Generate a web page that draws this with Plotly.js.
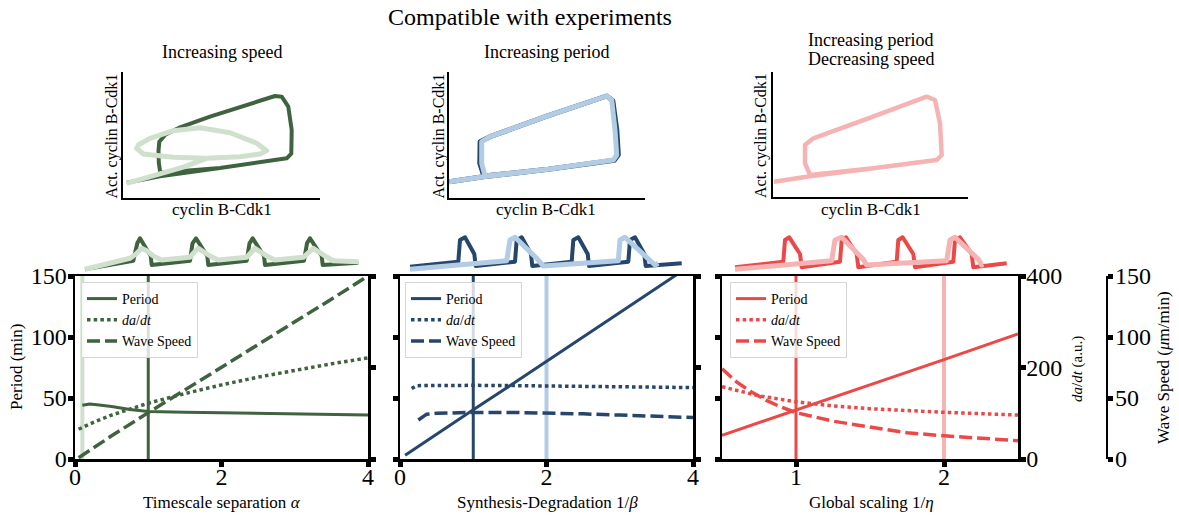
<!DOCTYPE html>
<html><head><meta charset="utf-8">
<script src="https://cdn.plot.ly/plotly-3.0.1.min.js"></script>
<style>
html,body{margin:0;padding:0;background:#fff;}
#chart{width:1179px;height:517px;}
path.js-line{stroke-linejoin:round;}
</style></head><body><div id="chart"></div>
<script>
// ---------------- DATA ----------------
// Panel 1: timescale separation alpha
const alphaPeriodX = [0.1, 0.2, 0.3, 0.5, 0.75, 1, 1.5, 2, 2.5, 3, 3.5, 4];
const alphaPeriodY = [44, 45, 44.5, 43, 40.5, 39, 38.4, 38, 37.4, 36.9, 36.4, 36];
const alphaDadtX = [0.05, 0.25, 0.5, 0.75, 1, 1.5, 2, 2.5, 3, 3.5, 4];
const alphaDadtY = [65, 80, 96, 110, 122, 143, 162, 179, 194, 208, 221];
const alphaSpeedX = [0.05, 0.5, 1, 1.5, 2, 2.5, 3, 3.5, 4];
const alphaSpeedY = [1, 19, 38, 56.5, 75, 93.5, 112, 131, 150];
const alphaMarks = [1, 0.1];            // reference, compared value

// Panel 2: synthesis-degradation 1/beta
const betaPeriodX = [0.07, 0.5, 1, 1.5, 2, 2.5, 3, 3.5, 4];
const betaPeriodY = [3, 20.5, 40.3, 60, 80, 100, 120, 140, 160];
const betaDadtX = [0.16, 0.22, 0.3, 0.5, 1, 1.5, 2, 2.5, 3, 3.5, 4];
const betaDadtY = [154, 160, 160.5, 161, 161, 160.5, 160, 159, 158, 157, 156];
const betaSpeedX = [0.25, 0.3, 0.36, 0.5, 0.7, 1, 1.5, 2, 2.5, 3, 3.5, 4];
const betaSpeedY = [32, 34.5, 36.6, 37.5, 38, 38.2, 38.2, 37.8, 37, 36, 35, 34];
const betaMarks = [1, 2];

// Panel 3: global scaling 1/eta
const etaPeriodX = [0.5, 1, 1.5, 2, 2.5];
const etaPeriodY = [19.5, 40, 61, 81.5, 102.5];
const etaDadtX = [0.5, 0.6, 0.75, 1, 1.25, 1.5, 1.75, 2, 2.25, 2.5];
const etaDadtY = [158, 150, 138, 125, 116, 110, 105.5, 102, 99, 96];
const etaSpeedX = [0.5, 0.6, 0.7, 0.8, 0.9, 1, 1.25, 1.5, 1.75, 2, 2.25, 2.5];
const etaSpeedY = [74, 63, 55, 48, 42.5, 38, 31, 26, 21.5, 19, 16.8, 15];
const etaMarks = [1, 2];

// Kymograph-like time traces above each panel (time, activity; a.u.)
const alphaRefT = [5, 53.3, 57.3, 60, 70.7, 71.7, 110, 112.5, 116, 127.3, 128.3, 166.7, 169.5, 172.7, 184, 185, 224, 227, 230, 241.7, 242.7, 278.3];
const alphaRefA = [8.7, 17.3, 34.7, 39.7, 22, 13, 17.3, 34.7, 39.7, 22, 13, 17.3, 34.7, 39.7, 22, 13, 17.3, 34.7, 39.7, 22, 13, 15.3];
const alphaCmpT = [5, 50, 56, 61.7, 66.7, 73.3, 81.7, 110, 113, 118.3, 130, 138.3, 166.7, 170, 175, 186.7, 195, 223.3, 227, 233.3, 245, 253.3, 278.3];
const alphaCmpA = [8.7, 19.7, 24, 29.7, 27.3, 22, 18, 20.7, 24.5, 29.7, 22, 18, 20.7, 24.5, 29.7, 22, 18, 20.7, 24.5, 29.7, 22, 17.3, 16.3];

const betaRefT = [5, 53.3, 55, 60, 69.3, 70.7, 110, 111.7, 116.7, 126, 127.3, 166.7, 168.3, 173.3, 182.7, 184, 223.3, 225, 230, 239.3, 240.7, 276.7];
const betaRefA = [11.3, 16.3, 38, 40.7, 24, 12, 16.3, 38, 40.7, 24, 12, 16.3, 38, 40.7, 24, 12, 16.3, 38, 40.7, 24, 12, 14.7];
const betaCmpT = [5, 101.7, 105, 110, 131.7, 138.3, 213.3, 215, 220, 245, 250, 253.3];
const betaCmpA = [8.7, 17.3, 38, 40.7, 19.7, 12, 17.3, 38, 40.7, 18, 13, 14.7];

const etaRefT = [5, 53.3, 55, 59.3, 70, 71.7, 110, 111.7, 116, 126.7, 128.3, 166.7, 168.3, 172.7, 183.3, 185, 223.3, 225, 230, 241.7, 243.3, 276.7];
const etaRefA = [10.7, 16.3, 38, 40.7, 24, 10.7, 16.3, 38, 40.7, 24, 10.7, 16.3, 38, 40.7, 24, 10.7, 16.3, 38, 40.7, 24, 10.7, 14.7];
const etaCmpT = [5, 101.7, 105, 111.7, 133.3, 136.7, 216.7, 220, 225, 248.3, 251.7, 253.3];
const etaCmpA = [8.7, 17.3, 38, 40.7, 18.7, 13, 17.3, 38, 40.7, 18.7, 13, 13.7];

// Phase portraits (cyclin B-Cdk1 vs active cyclin B-Cdk1; a.u.)
const phaseARefC = [3.4, 36.7, 96.7, 163.4, 168, 168.4, 165, 158.4, 151.7, 116.7, 86.7, 56.7, 42, 36, 35.2, 35.5, 37, 96.7, 163.4];
const phaseARefA = [15, 21.5, 29.7, 39.4, 44, 67.7, 91, 101, 101.7, 91, 81, 70.4, 63, 56, 47, 35, 25, 29.7, 39.4];
const phaseACmpC = [3.4, 30, 60, 83.4, 116.7, 136.7, 143.4, 133.4, 106.7, 76.7, 50, 26.7, 15, 13.4, 20, 50, 83.4, 116.7];
const phaseACmpA = [14.4, 22, 30.5, 39.4, 41, 43.7, 47, 54.4, 65, 70, 67, 59.4, 52.7, 49.4, 43.7, 40.4, 39.4, 41];

const phaseBRefC = [0, 34, 99, 165, 169, 167.5, 163.5, 157.4, 99, 40.7, 30.8, 30.5, 34.5, 99, 165];
const phaseBRefA = [16, 21, 28.4, 37.5, 43, 67.7, 97, 101.7, 82, 61, 56, 34.4, 21.7, 28.4, 37.5];
const phaseBCmpC = [0, 34, 99, 164, 167.4, 165.7, 162.4, 157.4, 99, 40.7, 32.4, 32.4, 35.7, 99, 164];
const phaseBCmpA = [16, 21, 28.4, 37.7, 42.7, 67.7, 97.7, 101.7, 82, 61, 56, 34.4, 21.7, 28.4, 37.7];

const phaseCCmpC = [0.7, 38.4, 100, 163.4, 168.4, 166.7, 161.7, 153.4, 97, 40, 31.7, 31.7, 36.7, 100, 163.4];
const phaseCCmpA = [15, 20.7, 28.5, 36.7, 41.7, 73.4, 96.7, 100, 79, 58.4, 51.7, 33.4, 21.7, 28.5, 36.7];

// Tick values
const periodTicks = [0, 50, 100, 150];
const dadtTicks = [0, 200, 400];
const speedTicks = [0, 50, 100, 150];
const alphaTicks = [0, 2, 4];
const betaTicks = [0, 2, 4];
const etaTicks = [1, 2];

// ---------------- STYLE ----------------
const W = 1179, H = 517;
const fx = p => p / W, fy = p => 1 - p / H;
const FONT = 'Liberation Serif, DejaVu Serif, serif';
const C = {
  g: '#3f633f', gl: '#cfe1cc',
  b: '#26466b', bl: '#b3cce6',
  r: '#eb4848', rl: '#f6b3b3'
};
const DOT = '3.5px,3.2px', DASH = '13px,5px';

function panelX(dom, range, tickvals, anchor) {
  return {domain: dom, range, anchor, tickvals, ticks: 'outside', ticklen: 5, tickwidth: 5, tickcolor: 'black',
    showline: true, linewidth: 2.5, linecolor: 'black', mirror: true, showgrid: false, zeroline: false,
    ticklabelstandoff: -10,
    tickfont: {family: FONT, size: 24, color: 'black'}, fixedrange: true};
}
function leftY(dom, anchor, labels) {
  return {domain: dom, range: [0, 150], anchor, tickvals: periodTicks, ticks: 'outside', ticklen: 5, tickwidth: 5,
    tickcolor: 'black', showline: true, linewidth: 2.5, linecolor: 'black', showgrid: false, zeroline: false,
    ticklabelstandoff: -4,
    showticklabels: labels, tickfont: {family: FONT, size: 24, color: 'black'}, fixedrange: true};
}
function rightY(over, anchor, labels) {
  return {overlaying: over, side: 'right', range: [0, 400], anchor, tickvals: dadtTicks, ticks: 'outside', ticklen: 5,
    tickwidth: 5, tickcolor: 'black', showline: true, linewidth: 2.5, linecolor: 'black', showgrid: false,
    ticklabelstandoff: -4,
    zeroline: false, showticklabels: labels, tickfont: {family: FONT, size: 24, color: 'black'}, fixedrange: true};
}
function hiddenAx(dom, range, anchor) {
  return {domain: dom, range, anchor, visible: false, fixedrange: true};
}
function phaseAx(dom, range, anchor) {
  return {domain: dom, range, anchor, showline: true, linewidth: 2.5, linecolor: 'black', ticks: '',
    showticklabels: false, showgrid: false, zeroline: false, fixedrange: true};
}

const domB = [fy(459), fy(276)];
const dom1 = [fx(75), fx(368)], dom2 = [fx(400), fx(693)], dom3 = [fx(722), fx(1018)];
const domStripY = [fy(278), fy(230)];

const traces = [];
function line(x, y, xa, ya, color, width, dash, name, legend) {
  traces.push({type: 'scatter', mode: 'lines', x, y, xaxis: xa, yaxis: ya,
    line: {color, width, dash: dash || 'solid'}, name: name || '', showlegend: !!name,
    legend: legend || 'legend', hoverinfo: 'skip'});
}
const dadtName = '<i>da</i>/<i>dt</i>';

// Panel 1
line(alphaPeriodX, alphaPeriodY, 'x', 'y', C.g, 3, 'solid', 'Period', 'legend');
line(alphaDadtX, alphaDadtY, 'x', 'y2', C.g, 3.5, DOT, dadtName, 'legend');
line(alphaSpeedX, alphaSpeedY, 'x', 'y14', C.g, 3.5, DASH, 'Wave Speed', 'legend');
// Panel 2
line(betaPeriodX, betaPeriodY, 'x2', 'y3', C.b, 3, 'solid', 'Period', 'legend2');
line(betaDadtX, betaDadtY, 'x2', 'y4', C.b, 3.5, DOT, dadtName, 'legend2');
line(betaSpeedX, betaSpeedY, 'x2', 'y15', C.b, 3.5, DASH, 'Wave Speed', 'legend2');
// Panel 3
line(etaPeriodX, etaPeriodY, 'x3', 'y5', C.r, 3, 'solid', 'Period', 'legend3');
line(etaDadtX, etaDadtY, 'x3', 'y6', C.r, 3.5, DOT, dadtName, 'legend3');
line(etaSpeedX, etaSpeedY, 'x3', 'y7', C.r, 3.5, DASH, 'Wave Speed', 'legend3');

// strips
line(alphaRefT, alphaRefA, 'x4', 'y8', C.g, 4);
line(alphaCmpT, alphaCmpA, 'x4', 'y8', C.gl, 5);
line(betaRefT, betaRefA, 'x5', 'y9', C.b, 4);
line(betaCmpT, betaCmpA, 'x5', 'y9', C.bl, 5);
line(etaRefT, etaRefA, 'x6', 'y10', C.r, 4);
line(etaCmpT, etaCmpA, 'x6', 'y10', C.rl, 5);

// phase portraits
line(phaseARefC, phaseARefA, 'x7', 'y11', C.g, 4);
line(phaseACmpC, phaseACmpA, 'x7', 'y11', C.gl, 5);
line(phaseBRefC, phaseBRefA, 'x8', 'y12', C.b, 5);
line(phaseBCmpC, phaseBCmpA, 'x8', 'y12', C.bl, 5);
line(phaseCCmpC, phaseCCmpA, 'x9', 'y13', C.rl, 4.5);

// vertical reference lines (shapes in data coordinates)
const shapes = [];
function vmark(v, xref, yref, color, width) {
  shapes.push({type: 'line', xref, yref: yref + ' domain', x0: v, x1: v, y0: 0, y1: 1,
    line: {color, width}, layer: 'below'});
}
vmark(alphaMarks[0], 'x', 'y', C.g, 3);
vmark(alphaMarks[1], 'x', 'y', C.gl, 4);
vmark(betaMarks[0], 'x2', 'y3', C.b, 3);
vmark(betaMarks[1], 'x2', 'y3', C.bl, 4);
vmark(etaMarks[0], 'x3', 'y5', C.r, 3);
vmark(etaMarks[1], 'x3', 'y5', C.rl, 4);

function ann(text, x, y, size, angle) {
  return {text, xref: 'paper', yref: 'paper', x: fx(x), y: fy(y), xanchor: 'center', yanchor: 'middle',
    showarrow: false, textangle: angle || 0, font: {family: FONT, size, color: 'black'}};
}
const annotations = [
  ann('Increasing speed', 221.7, 51.5, 18),
  ann('Increasing period', 546, 51.5, 18),
  ann('Increasing period', 870.7, 40, 18),
  ann('Decreasing speed', 870.7, 59.5, 18),
  ann('cyclin B-Cdk1', 221.7, 209, 17),
  ann('cyclin B-Cdk1', 545.8, 209, 17),
  ann('cyclin B-Cdk1', 870.8, 209, 17),
  ann('Act. cyclin B-Cdk1', 111.5, 136, 16, -90),
  ann('Act. cyclin B-Cdk1', 438.5, 136, 16, -90),
  ann('Act. cyclin B-Cdk1', 761, 136, 16, -90),
  ann('Period (min)', 16, 367, 17, -90),
  ann('Timescale separation <i>α</i>', 221.5, 502, 17),
  ann('Synthesis-Degradation 1/<i>β</i>', 547, 502, 17),
  ann('Global scaling 1/<i>η</i>', 871.5, 502, 17),
  ann('<i>da</i>/<i>dt</i> (a.u.)', 1077, 369, 15, -90),
  ann('Wave Speed (<i>μ</i>m/min)', 1163, 368, 17, -90)
];

function legendAt(x) {
  return {x: fx(x), y: fy(282), xanchor: 'left', yanchor: 'top', xref: 'paper', yref: 'paper',
    bgcolor: 'rgba(255,255,255,0.8)', bordercolor: '#d6d6d6', borderwidth: 1,
    font: {family: FONT, size: 14, color: 'black'}, tracegroupgap: 0, itemwidth: 30};
}

const layout = {
  width: W, height: H, margin: {l: 0, r: 0, t: 0, b: 0},
  paper_bgcolor: 'white', plot_bgcolor: 'rgba(0,0,0,0)',
  font: {family: FONT, color: 'black'},
  title: {text: 'Compatible with experiments', x: fx(530), xanchor: 'center', xref: 'paper',
    y: fy(17), yanchor: 'middle', yref: 'paper', font: {family: FONT, size: 24, color: 'black'}},
  xaxis: panelX(dom1, [0, 4], alphaTicks, 'y'),
  yaxis: leftY(domB, 'x', true),
  yaxis2: rightY('y', 'x', false),
  xaxis2: panelX(dom2, [0, 4], betaTicks, 'y3'),
  yaxis3: leftY(domB, 'x2', false),
  yaxis4: rightY('y3', 'x2', false),
  xaxis3: panelX(dom3, [0.5, 2.5], etaTicks, 'y5'),
  yaxis5: leftY(domB, 'x3', false),
  yaxis6: rightY('y5', 'x3', true),
  yaxis7: {overlaying: 'y5', side: 'right', anchor: 'free', position: fx(1106.7), range: [0, 150],
    tickvals: speedTicks, ticks: 'outside', ticklen: 5, tickwidth: 5, tickcolor: 'black', showline: true,
    linewidth: 2.5, linecolor: 'black', showgrid: false, zeroline: false, ticklabelstandoff: -3,
    tickfont: {family: FONT, size: 24, color: 'black'}, fixedrange: true},
  yaxis14: {overlaying: 'y', range: [0, 150], visible: false, anchor: 'x', fixedrange: true},
  yaxis15: {overlaying: 'y3', range: [0, 150], visible: false, anchor: 'x2', fixedrange: true},
  xaxis4: hiddenAx([fx(80), fx(365)], [0, 285], 'y8'),
  yaxis8: hiddenAx(domStripY, [0, 48], 'x4'),
  xaxis5: hiddenAx([fx(405), fx(690)], [0, 285], 'y9'),
  yaxis9: hiddenAx(domStripY, [0, 48], 'x5'),
  xaxis6: hiddenAx([fx(730), fx(1015)], [0, 285], 'y10'),
  yaxis10: hiddenAx(domStripY, [0, 48], 'x6'),
  xaxis7: phaseAx([fx(123.3), fx(320)], [0, 196.7], 'y11'),
  yaxis11: phaseAx([fy(197.7), fy(71.7)], [0, 126], 'x7'),
  xaxis8: phaseAx([fx(449.3), fx(645)], [0, 195.7], 'y12'),
  yaxis12: phaseAx([fy(197.7), fy(71.7)], [0, 126], 'x8'),
  xaxis9: phaseAx([fx(773.3), fx(968.3)], [0, 195], 'y13'),
  yaxis13: phaseAx([fy(196.7), fy(71.7)], [0, 125], 'x9'),
  legend: legendAt(81),
  legend2: legendAt(405),
  legend3: legendAt(730),
  shapes, annotations
};

Plotly.newPlot('chart', traces, layout, {displayModeBar: false, staticPlot: true});
</script></body></html>
